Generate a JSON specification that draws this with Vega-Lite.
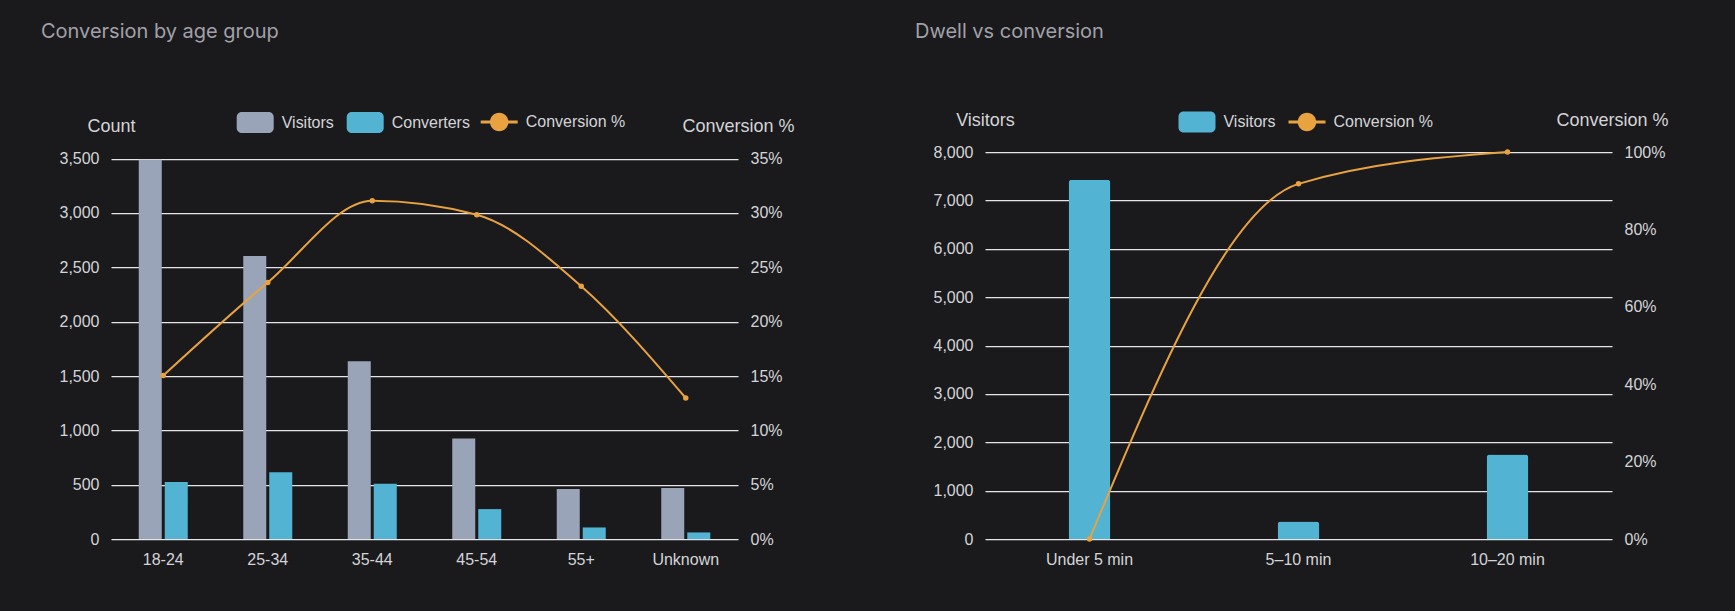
{
  "$schema": "https://vega.github.io/schema/vega-lite/v6.json",
  "background": "#1a1a1c",
  "padding": {"left": 41, "top": 21.1, "right": 67, "bottom": 44},
  "bounds": "flush",
  "spacing": 247,
  "datasets": {
    "age": [
      {"group": "18-24", "series": "Visitors", "value": 3490},
      {"group": "18-24", "series": "Converters", "value": 525},
      {"group": "18-24", "series": "Conversion %", "value": 0.1504},
      {"group": "25-34", "series": "Visitors", "value": 2605},
      {"group": "25-34", "series": "Converters", "value": 615},
      {"group": "25-34", "series": "Conversion %", "value": 0.2361},
      {"group": "35-44", "series": "Visitors", "value": 1635},
      {"group": "35-44", "series": "Converters", "value": 509},
      {"group": "35-44", "series": "Conversion %", "value": 0.3113},
      {"group": "45-54", "series": "Visitors", "value": 925},
      {"group": "45-54", "series": "Converters", "value": 276},
      {"group": "45-54", "series": "Conversion %", "value": 0.2984},
      {"group": "55+", "series": "Visitors", "value": 460},
      {"group": "55+", "series": "Converters", "value": 107},
      {"group": "55+", "series": "Conversion %", "value": 0.2326},
      {"group": "Unknown", "series": "Visitors", "value": 470},
      {"group": "Unknown", "series": "Converters", "value": 61},
      {"group": "Unknown", "series": "Conversion %", "value": 0.1298}
    ],
    "dwell": [
      {"bucket": "Under 5 min", "series": "Visitors", "value": 7430},
      {"bucket": "Under 5 min", "series": "Conversion %", "value": 0},
      {"bucket": "5–10 min", "series": "Visitors", "value": 365},
      {"bucket": "5–10 min", "series": "Conversion %", "value": 0.918},
      {"bucket": "10–20 min", "series": "Visitors", "value": 1750},
      {"bucket": "10–20 min", "series": "Conversion %", "value": 1}
    ]
  },
  "config": {
    "font": "Liberation Sans",
    "view": {"stroke": null},
    "axis": {
      "labelFont": "Liberation Sans",
      "labelFontSize": 16,
      "labelColor": "#d4d4d8",
      "titleFont": "Liberation Sans",
      "titleFontSize": 18,
      "titleFontWeight": "normal",
      "titleColor": "#d4d4d8",
      "domain": false,
      "ticks": false,
      "labelPadding": 12,
      "gridColor": "#e5e5e5",
      "gridWidth": 1.2,
      "gridOpacity": 1
    },
    "legend": {
      "orient": "none",
      "direction": "horizontal",
      "padding": 0,
      "title": null,
      "labelFont": "Liberation Sans",
      "labelFontSize": 16,
      "labelColor": "#d4d4d8",
      "labelOffset": 8,
      "columnPadding": 12,
      "symbolSize": 1369,
      "symbolStrokeWidth": 0,
      "symbolOpacity": 1
    },
    "title": {
      "anchor": "start",
      "frame": "group",
      "font": "Inter",
      "fontSize": 20,
      "fontWeight": "normal",
      "color": "#a1a1aa",
      "baseline": "bottom",
      "offset": 61.6,
      "dx": -70
    }
  },
  "resolve": {
    "scale": {"color": "independent", "fill": "independent"},
    "legend": {"color": "independent", "fill": "independent"}
  },
  "hconcat": [
    {
      "title": "Conversion by age group",
      "width": 627,
      "height": 387,
      "data": {"name": "age"},
      "layer": [
        {
          "transform": [{"filter": "datum.series !== 'Conversion %'"}],
          "mark": {"type": "bar"},
          "encoding": {
            "x": {
              "field": "group",
              "type": "nominal",
              "sort": ["18-24", "25-34", "35-44", "45-54", "55+", "Unknown"],
              "scale": {"paddingInner": 0.531, "paddingOuter": 0.2655},
              "axis": {"title": null, "labelAngle": 0}
            },
            "xOffset": {
              "field": "series",
              "type": "nominal",
              "sort": ["Visitors", "Converters"],
              "scale": {"paddingInner": 0.115, "paddingOuter": 0}
            },
            "y": {
              "field": "value",
              "type": "quantitative",
              "scale": {"domain": [0, 3560], "nice": false},
              "axis": {
                "title": "Count",
                "values": [0, 500, 1000, 1500, 2000, 2500, 3000, 3500],
                "format": ",d",
                "titleAngle": 0,
                "titleAlign": "center",
                "titleBaseline": "middle",
                "titleX": 0,
                "titleY": -25.8
              }
            },
            "fill": {
              "field": "series",
              "type": "nominal",
              "scale": {"domain": ["Visitors", "Converters"], "range": ["#9aa4b8", "#52b3d3"]},
              "legend": {
                "legendX": 125.7,
                "legendY": -48.5,
                "symbolSize": 1369,
                "symbolType": "M-0.73,-0.568H0.73C0.879,-0.568,1,-0.447,1,-0.298V0.298C1,0.447,0.879,0.568,0.73,0.568H-0.73C-0.879,0.568,-1,0.447,-1,0.298V-0.298C-1,-0.447,-0.879,-0.568,-0.73,-0.568Z"
              }
            }
          }
        },
        {
          "transform": [{"filter": "datum.series === 'Conversion %'"}],
          "encoding": {
            "x": {
              "field": "group",
              "type": "nominal",
              "sort": ["18-24", "25-34", "35-44", "45-54", "55+", "Unknown"]
            },
            "y": {
              "field": "value",
              "type": "quantitative",
              "scale": {"domain": [0, 0.356], "nice": false},
              "axis": {
                "orient": "right",
                "title": "Conversion %",
                "values": [0, 0.05, 0.1, 0.15, 0.2, 0.25, 0.3, 0.35],
                "format": ".0%",
                "grid": false,
                "titleAngle": 0,
                "titleAlign": "center",
                "titleBaseline": "middle",
                "titleX": 0,
                "titleY": -25.8
              }
            }
          },
          "layer": [
            {
              "mark": {"type": "line", "interpolate": "monotone", "strokeWidth": 2, "color": "#e8a23f"}
            },
            {
              "mark": {"type": "point", "filled": true, "size": 30, "opacity": 1},
              "encoding": {
                "color": {
                  "field": "series",
                  "type": "nominal",
                  "scale": {"domain": ["Conversion %"], "range": ["#e8a23f"]},
                  "legend": {
                    "legendX": 369.7,
                    "legendY": -48.5,
                    "symbolSize": 1369,
                    "symbolType": "M-1,-0.08H1V0.08H-1Z M-0.5,0C-0.5,-0.276,-0.276,-0.5,0,-0.5C0.276,-0.5,0.5,-0.276,0.5,0C0.5,0.276,0.276,0.5,0,0.5C-0.276,0.5,-0.5,0.276,-0.5,0Z"
                  }
                }
              }
            }
          ]
        }
      ],
      "resolve": {"scale": {"y": "independent"}, "axis": {"y": "independent"}}
    },
    {
      "title": "Dwell vs conversion",
      "width": 627,
      "height": 387,
      "data": {"name": "dwell"},
      "layer": [
        {
          "transform": [{"filter": "datum.series !== 'Conversion %'"}],
          "mark": {"type": "bar", "cornerRadiusEnd": 3},
          "encoding": {
            "x": {
              "field": "bucket",
              "type": "nominal",
              "sort": ["Under 5 min", "5–10 min", "10–20 min"],
              "scale": {"paddingInner": 0.8, "paddingOuter": 0.4},
              "axis": {"title": null, "labelAngle": 0}
            },
            "y": {
              "field": "value",
              "type": "quantitative",
              "scale": {"domain": [0, 8000], "nice": false},
              "axis": {
                "title": "Visitors",
                "values": [0, 1000, 2000, 3000, 4000, 5000, 6000, 7000, 8000],
                "format": ",d",
                "titleAngle": 0,
                "titleAlign": "center",
                "titleBaseline": "middle",
                "titleX": 0,
                "titleY": -31.8
              }
            },
            "fill": {
              "field": "series",
              "type": "nominal",
              "scale": {"domain": ["Visitors"], "range": ["#52b3d3"]},
              "legend": {
                "legendX": 193.5,
                "legendY": -48.5,
                "symbolSize": 1369,
                "symbolType": "M-0.73,-0.568H0.73C0.879,-0.568,1,-0.447,1,-0.298V0.298C1,0.447,0.879,0.568,0.73,0.568H-0.73C-0.879,0.568,-1,0.447,-1,0.298V-0.298C-1,-0.447,-0.879,-0.568,-0.73,-0.568Z"
              }
            }
          }
        },
        {
          "transform": [{"filter": "datum.series === 'Conversion %'"}],
          "encoding": {
            "x": {
              "field": "bucket",
              "type": "nominal",
              "sort": ["Under 5 min", "5–10 min", "10–20 min"]
            },
            "y": {
              "field": "value",
              "type": "quantitative",
              "scale": {"domain": [0, 1], "nice": false},
              "axis": {
                "orient": "right",
                "title": "Conversion %",
                "values": [0, 0.2, 0.4, 0.6, 0.8, 1],
                "format": ".0%",
                "grid": false,
                "titleAngle": 0,
                "titleAlign": "center",
                "titleBaseline": "middle",
                "titleX": 0,
                "titleY": -31.8
              }
            }
          },
          "layer": [
            {
              "mark": {"type": "line", "interpolate": "monotone", "strokeWidth": 2, "color": "#e8a23f"}
            },
            {
              "mark": {"type": "point", "filled": true, "size": 30, "opacity": 1},
              "encoding": {
                "color": {
                  "field": "series",
                  "type": "nominal",
                  "scale": {"domain": ["Conversion %"], "range": ["#e8a23f"]},
                  "legend": {
                    "legendX": 303.5,
                    "legendY": -48.5,
                    "symbolSize": 1369,
                    "symbolType": "M-1,-0.08H1V0.08H-1Z M-0.5,0C-0.5,-0.276,-0.276,-0.5,0,-0.5C0.276,-0.5,0.5,-0.276,0.5,0C0.5,0.276,0.276,0.5,0,0.5C-0.276,0.5,-0.5,0.276,-0.5,0Z"
                  }
                }
              }
            }
          ]
        }
      ],
      "resolve": {"scale": {"y": "independent"}, "axis": {"y": "independent"}}
    }
  ]
}
